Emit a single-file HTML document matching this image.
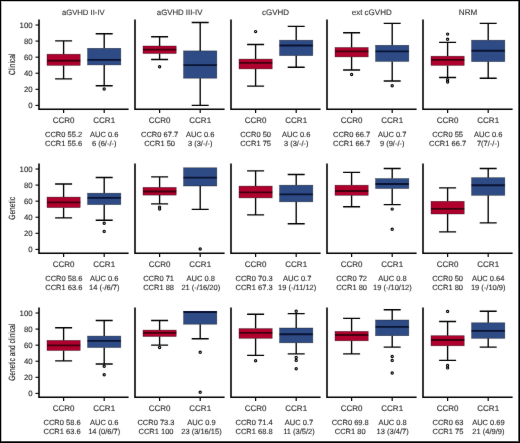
<!DOCTYPE html>
<html><head><meta charset="utf-8"><title>Boxplots</title>
<style>
html,body{margin:0;padding:0;background:#fff;}
body{width:520px;height:443px;overflow:hidden;}
svg{display:block;font-family:"Liberation Sans",sans-serif;will-change:transform;text-rendering:geometricPrecision;}
text{stroke:#2a2a2a;stroke-width:0.12px;}
</style></head><body>
<svg width="520" height="443" viewBox="0 0 520 443">
<defs><filter id="soft" filterUnits="userSpaceOnUse" x="0" y="0" width="520" height="443" color-interpolation-filters="sRGB"><feConvolveMatrix order="3" kernelMatrix="0.0028 0.0470 0.0028 0.0470 0.8008 0.0470 0.0028 0.0470 0.0028" edgeMode="duplicate" preserveAlpha="true"/></filter></defs>
<g filter="url(#soft)">
<rect x="0" y="0" width="520" height="443" fill="#fff"/>
<text transform="translate(14.8,64.35) rotate(-90) scale(0.73,1)" text-anchor="middle" font-size="9" fill="#111" stroke="#111" stroke-width="0.4">Clinical</text>
<text x="83.3" y="15.3" text-anchor="middle" font-size="7.7" fill="#333" stroke="none">aGVHD II-IV</text>
<path d="M39 19.4V109.3H128.6" fill="none" stroke="#000" stroke-width="1.6" stroke-linejoin="miter"/>
<path d="M63.6 109.3v3.6" stroke="#000" stroke-width="1.2"/>
<path d="M104.2 109.3v3.6" stroke="#000" stroke-width="1.2"/>
<path d="M35.5 105.4H39" stroke="#000" stroke-width="1.1"/>
<text x="32.6" y="108.1" text-anchor="end" font-size="7.8" fill="#2a2a2a">0</text>
<path d="M35.5 89.32H39" stroke="#000" stroke-width="1.1"/>
<text x="32.6" y="92.02" text-anchor="end" font-size="7.8" fill="#2a2a2a">20</text>
<path d="M35.5 73.24H39" stroke="#000" stroke-width="1.1"/>
<text x="32.6" y="75.94" text-anchor="end" font-size="7.8" fill="#2a2a2a">40</text>
<path d="M35.5 57.16H39" stroke="#000" stroke-width="1.1"/>
<text x="32.6" y="59.86" text-anchor="end" font-size="7.8" fill="#2a2a2a">60</text>
<path d="M35.5 41.08H39" stroke="#000" stroke-width="1.1"/>
<text x="32.6" y="43.78" text-anchor="end" font-size="7.8" fill="#2a2a2a">80</text>
<path d="M35.5 25H39" stroke="#000" stroke-width="1.1"/>
<text x="32.6" y="27.7" text-anchor="end" font-size="7.8" fill="#2a2a2a">100</text>
<path d="M63.6 54.2V40.9M55.1 40.9H72.1" stroke="#000" stroke-width="1.35" fill="none"/>
<path d="M63.6 65.4V78.8M55.1 78.8H72.1" stroke="#000" stroke-width="1.35" fill="none"/>
<rect x="47" y="54.2" width="33.2" height="11.2" fill="#B0002E" stroke="#000" stroke-opacity="0.55" stroke-width="0.6"/>
<path d="M47 60.7H80.2" stroke="#40000e" stroke-width="1.85"/>
<path d="M104.2 48.3V33.7M95.7 33.7H112.7" stroke="#000" stroke-width="1.35" fill="none"/>
<path d="M104.2 64.9V85.7M95.7 85.7H112.7" stroke="#000" stroke-width="1.35" fill="none"/>
<rect x="87.6" y="48.3" width="33.2" height="16.6" fill="#2E4B85" stroke="#000" stroke-opacity="0.55" stroke-width="0.6"/>
<path d="M87.6 59.9H120.8" stroke="#0a1232" stroke-width="1.85"/>
<circle cx="104.2" cy="89" r="1.1" fill="#fff" stroke="#000" stroke-width="1.2"/>
<text x="63.6" y="122.9" text-anchor="middle" font-size="8" fill="#2a2a2a">CCR0</text>
<text x="63.6" y="136.7" text-anchor="middle" font-size="7.5" fill="#2a2a2a">CCR0 55.2</text>
<text x="63.6" y="146.1" text-anchor="middle" font-size="7.5" fill="#2a2a2a">CCR1 55.6</text>
<text x="104.2" y="122.9" text-anchor="middle" font-size="8" fill="#2a2a2a">CCR1</text>
<text x="104.2" y="136.7" text-anchor="middle" font-size="7.5" fill="#2a2a2a">AUC 0.6</text>
<text x="104.2" y="146.1" text-anchor="middle" font-size="7.5" fill="#2a2a2a">6 (6/-/-)</text>
<text x="179.6" y="15.3" text-anchor="middle" font-size="7.8" fill="#333" stroke="none">aGVHD III-IV</text>
<path d="M135 19.4V109.3H224.6" fill="none" stroke="#000" stroke-width="1.6" stroke-linejoin="miter"/>
<path d="M159.6 109.3v3.6" stroke="#000" stroke-width="1.2"/>
<path d="M200.2 109.3v3.6" stroke="#000" stroke-width="1.2"/>
<path d="M159.6 46V36.7M151.1 36.7H168.1" stroke="#000" stroke-width="1.35" fill="none"/>
<path d="M159.6 53.5V59.5M151.1 59.5H168.1" stroke="#000" stroke-width="1.35" fill="none"/>
<rect x="143" y="46" width="33.2" height="7.5" fill="#B0002E" stroke="#000" stroke-opacity="0.55" stroke-width="0.6"/>
<path d="M143 49.6H176.2" stroke="#40000e" stroke-width="1.85"/>
<circle cx="159.6" cy="66.8" r="1.1" fill="#fff" stroke="#000" stroke-width="1.2"/>
<path d="M200.2 50.9V22.5M191.7 22.5H208.7" stroke="#000" stroke-width="1.35" fill="none"/>
<path d="M200.2 78.2V105.4M191.7 105.4H208.7" stroke="#000" stroke-width="1.35" fill="none"/>
<rect x="183.6" y="50.9" width="33.2" height="27.3" fill="#2E4B85" stroke="#000" stroke-opacity="0.55" stroke-width="0.6"/>
<path d="M183.6 65.1H216.8" stroke="#0a1232" stroke-width="1.85"/>
<text x="159.6" y="122.9" text-anchor="middle" font-size="8" fill="#2a2a2a">CCR0</text>
<text x="159.6" y="136.7" text-anchor="middle" font-size="7.5" fill="#2a2a2a">CCR0 67.7</text>
<text x="159.6" y="146.1" text-anchor="middle" font-size="7.5" fill="#2a2a2a">CCR1 50</text>
<text x="200.2" y="122.9" text-anchor="middle" font-size="8" fill="#2a2a2a">CCR1</text>
<text x="200.2" y="136.7" text-anchor="middle" font-size="7.5" fill="#2a2a2a">AUC 0.6</text>
<text x="200.2" y="146.1" text-anchor="middle" font-size="7.5" fill="#2a2a2a">3 (3/-/-)</text>
<text x="275.6" y="15.3" text-anchor="middle" font-size="8" fill="#333" stroke="none">cGVHD</text>
<path d="M231 19.4V109.3H320.6" fill="none" stroke="#000" stroke-width="1.6" stroke-linejoin="miter"/>
<path d="M255.6 109.3v3.6" stroke="#000" stroke-width="1.2"/>
<path d="M296.2 109.3v3.6" stroke="#000" stroke-width="1.2"/>
<path d="M255.6 59.1V44.5M247.1 44.5H264.1" stroke="#000" stroke-width="1.35" fill="none"/>
<path d="M255.6 68.9V86.1M247.1 86.1H264.1" stroke="#000" stroke-width="1.35" fill="none"/>
<rect x="239" y="59.1" width="33.2" height="9.8" fill="#B0002E" stroke="#000" stroke-opacity="0.55" stroke-width="0.6"/>
<path d="M239 62.9H272.2" stroke="#40000e" stroke-width="1.85"/>
<circle cx="255.6" cy="31.6" r="1.1" fill="#fff" stroke="#000" stroke-width="1.2"/>
<path d="M296.2 40.2V26.4M287.7 26.4H304.7" stroke="#000" stroke-width="1.35" fill="none"/>
<path d="M296.2 55.6V67.2M287.7 67.2H304.7" stroke="#000" stroke-width="1.35" fill="none"/>
<rect x="279.6" y="40.2" width="33.2" height="15.4" fill="#2E4B85" stroke="#000" stroke-opacity="0.55" stroke-width="0.6"/>
<path d="M279.6 45.5H312.8" stroke="#0a1232" stroke-width="1.85"/>
<text x="255.6" y="122.9" text-anchor="middle" font-size="8" fill="#2a2a2a">CCR0</text>
<text x="255.6" y="136.7" text-anchor="middle" font-size="7.5" fill="#2a2a2a">CCR0 50</text>
<text x="255.6" y="146.1" text-anchor="middle" font-size="7.5" fill="#2a2a2a">CCR1 75</text>
<text x="296.2" y="122.9" text-anchor="middle" font-size="8" fill="#2a2a2a">CCR1</text>
<text x="296.2" y="136.7" text-anchor="middle" font-size="7.5" fill="#2a2a2a">AUC 0.6</text>
<text x="296.2" y="146.1" text-anchor="middle" font-size="7.5" fill="#2a2a2a">3 (3/-/-)</text>
<text x="371.7" y="15.3" text-anchor="middle" font-size="8" fill="#333" stroke="none">ext cGVHD</text>
<path d="M327 19.4V109.3H416.6" fill="none" stroke="#000" stroke-width="1.6" stroke-linejoin="miter"/>
<path d="M351.6 109.3v3.6" stroke="#000" stroke-width="1.2"/>
<path d="M392.2 109.3v3.6" stroke="#000" stroke-width="1.2"/>
<path d="M351.6 47.5V32.7M343.1 32.7H360.1" stroke="#000" stroke-width="1.35" fill="none"/>
<path d="M351.6 56.9V70M343.1 70H360.1" stroke="#000" stroke-width="1.35" fill="none"/>
<rect x="335" y="47.5" width="33.2" height="9.4" fill="#B0002E" stroke="#000" stroke-opacity="0.55" stroke-width="0.6"/>
<path d="M335 51.3H368.2" stroke="#40000e" stroke-width="1.85"/>
<circle cx="351.6" cy="74.5" r="1.1" fill="#fff" stroke="#000" stroke-width="1.2"/>
<path d="M392.2 45.3V23.4M383.7 23.4H400.7" stroke="#000" stroke-width="1.35" fill="none"/>
<path d="M392.2 61.4V81M383.7 81H400.7" stroke="#000" stroke-width="1.35" fill="none"/>
<rect x="375.6" y="45.3" width="33.2" height="16.1" fill="#2E4B85" stroke="#000" stroke-opacity="0.55" stroke-width="0.6"/>
<path d="M375.6 51.3H408.8" stroke="#0a1232" stroke-width="1.85"/>
<circle cx="392.2" cy="85.7" r="1.1" fill="#fff" stroke="#000" stroke-width="1.2"/>
<text x="351.6" y="122.9" text-anchor="middle" font-size="8" fill="#2a2a2a">CCR0</text>
<text x="351.6" y="136.7" text-anchor="middle" font-size="7.5" fill="#2a2a2a">CCR0 66.7</text>
<text x="351.6" y="146.1" text-anchor="middle" font-size="7.5" fill="#2a2a2a">CCR1 66.7</text>
<text x="392.2" y="122.9" text-anchor="middle" font-size="8" fill="#2a2a2a">CCR1</text>
<text x="392.2" y="136.7" text-anchor="middle" font-size="7.5" fill="#2a2a2a">AUC 0.7</text>
<text x="392.2" y="146.1" text-anchor="middle" font-size="7.5" fill="#2a2a2a">9 (9/-/-)</text>
<text x="468" y="15.3" text-anchor="middle" font-size="8.1" fill="#333" stroke="none">NRM</text>
<path d="M423 19.4V109.3H512.6" fill="none" stroke="#000" stroke-width="1.6" stroke-linejoin="miter"/>
<path d="M447.6 109.3v3.6" stroke="#000" stroke-width="1.2"/>
<path d="M488.2 109.3v3.6" stroke="#000" stroke-width="1.2"/>
<path d="M447.6 56.2V42.3M439.1 42.3H456.1" stroke="#000" stroke-width="1.35" fill="none"/>
<path d="M447.6 65.4V77.5M439.1 77.5H456.1" stroke="#000" stroke-width="1.35" fill="none"/>
<rect x="431" y="56.2" width="33.2" height="9.2" fill="#B0002E" stroke="#000" stroke-opacity="0.55" stroke-width="0.6"/>
<path d="M431 59.9H464.2" stroke="#40000e" stroke-width="1.85"/>
<circle cx="447.6" cy="34.1" r="1.1" fill="#fff" stroke="#000" stroke-width="1.2"/>
<circle cx="447.6" cy="39.2" r="1.1" fill="#fff" stroke="#000" stroke-width="1.2"/>
<circle cx="447.6" cy="79.8" r="1.1" fill="#fff" stroke="#000" stroke-width="1.2"/>
<circle cx="447.6" cy="82" r="1.1" fill="#fff" stroke="#000" stroke-width="1.2"/>
<path d="M488.2 40.2V23.4M479.7 23.4H496.7" stroke="#000" stroke-width="1.35" fill="none"/>
<path d="M488.2 61.6V78.2M479.7 78.2H496.7" stroke="#000" stroke-width="1.35" fill="none"/>
<rect x="471.6" y="40.2" width="33.2" height="21.4" fill="#2E4B85" stroke="#000" stroke-opacity="0.55" stroke-width="0.6"/>
<path d="M471.6 50.7H504.8" stroke="#0a1232" stroke-width="1.85"/>
<text x="447.6" y="122.9" text-anchor="middle" font-size="8" fill="#2a2a2a">CCR0</text>
<text x="447.6" y="136.7" text-anchor="middle" font-size="7.5" fill="#2a2a2a">CCR0 55</text>
<text x="447.6" y="146.1" text-anchor="middle" font-size="7.5" fill="#2a2a2a">CCR1 66.7</text>
<text x="488.2" y="122.9" text-anchor="middle" font-size="8" fill="#2a2a2a">CCR1</text>
<text x="488.2" y="136.7" text-anchor="middle" font-size="7.5" fill="#2a2a2a">AUC 0.6</text>
<text x="488.2" y="146.1" text-anchor="middle" font-size="7.5" fill="#2a2a2a">7(7/-/-)</text>
<text transform="translate(14.8,208.35) rotate(-90) scale(0.73,1)" text-anchor="middle" font-size="9" fill="#111" stroke="#111" stroke-width="0.4">Genetic</text>
<path d="M39 163.4V253.3H128.6" fill="none" stroke="#000" stroke-width="1.6" stroke-linejoin="miter"/>
<path d="M63.6 253.3v3.6" stroke="#000" stroke-width="1.2"/>
<path d="M104.2 253.3v3.6" stroke="#000" stroke-width="1.2"/>
<path d="M35.5 249.4H39" stroke="#000" stroke-width="1.1"/>
<text x="32.6" y="252.1" text-anchor="end" font-size="7.8" fill="#2a2a2a">0</text>
<path d="M35.5 233.32H39" stroke="#000" stroke-width="1.1"/>
<text x="32.6" y="236.02" text-anchor="end" font-size="7.8" fill="#2a2a2a">20</text>
<path d="M35.5 217.24H39" stroke="#000" stroke-width="1.1"/>
<text x="32.6" y="219.94" text-anchor="end" font-size="7.8" fill="#2a2a2a">40</text>
<path d="M35.5 201.16H39" stroke="#000" stroke-width="1.1"/>
<text x="32.6" y="203.86" text-anchor="end" font-size="7.8" fill="#2a2a2a">60</text>
<path d="M35.5 185.08H39" stroke="#000" stroke-width="1.1"/>
<text x="32.6" y="187.78" text-anchor="end" font-size="7.8" fill="#2a2a2a">80</text>
<path d="M35.5 169H39" stroke="#000" stroke-width="1.1"/>
<text x="32.6" y="171.7" text-anchor="end" font-size="7.8" fill="#2a2a2a">100</text>
<path d="M63.6 197.1V184M55.1 184H72.1" stroke="#000" stroke-width="1.35" fill="none"/>
<path d="M63.6 207.6V217.9M55.1 217.9H72.1" stroke="#000" stroke-width="1.35" fill="none"/>
<rect x="47" y="197.1" width="33.2" height="10.5" fill="#B0002E" stroke="#000" stroke-opacity="0.55" stroke-width="0.6"/>
<path d="M47 202.4H80.2" stroke="#40000e" stroke-width="1.85"/>
<path d="M104.2 193.2V177.5M95.7 177.5H112.7" stroke="#000" stroke-width="1.35" fill="none"/>
<path d="M104.2 204.6V220.2M95.7 220.2H112.7" stroke="#000" stroke-width="1.35" fill="none"/>
<rect x="87.6" y="193.2" width="33.2" height="11.4" fill="#2E4B85" stroke="#000" stroke-opacity="0.55" stroke-width="0.6"/>
<path d="M87.6 197.9H120.8" stroke="#0a1232" stroke-width="1.85"/>
<circle cx="104.2" cy="223.2" r="1.1" fill="#fff" stroke="#000" stroke-width="1.2"/>
<circle cx="104.2" cy="231.4" r="1.1" fill="#fff" stroke="#000" stroke-width="1.2"/>
<text x="63.6" y="266.9" text-anchor="middle" font-size="8" fill="#2a2a2a">CCR0</text>
<text x="63.8" y="280.7" text-anchor="middle" font-size="7.5" fill="#2a2a2a">CCR0 58.6</text>
<text x="63.8" y="290.1" text-anchor="middle" font-size="7.5" fill="#2a2a2a">CCR1 63.6</text>
<text x="104.2" y="266.9" text-anchor="middle" font-size="8" fill="#2a2a2a">CCR1</text>
<text x="104.2" y="280.7" text-anchor="middle" font-size="7.5" fill="#2a2a2a">AUC 0.6</text>
<text x="104.2" y="290.1" text-anchor="middle" font-size="7.5" fill="#2a2a2a">14 (-/6/7)</text>
<path d="M135 163.4V253.3H224.6" fill="none" stroke="#000" stroke-width="1.6" stroke-linejoin="miter"/>
<path d="M159.6 253.3v3.6" stroke="#000" stroke-width="1.2"/>
<path d="M200.2 253.3v3.6" stroke="#000" stroke-width="1.2"/>
<path d="M159.6 187.4V176.9M151.1 176.9H168.1" stroke="#000" stroke-width="1.35" fill="none"/>
<path d="M159.6 195.1V203.9M151.1 203.9H168.1" stroke="#000" stroke-width="1.35" fill="none"/>
<rect x="143" y="187.4" width="33.2" height="7.7" fill="#B0002E" stroke="#000" stroke-opacity="0.55" stroke-width="0.6"/>
<path d="M143 191.5H176.2" stroke="#40000e" stroke-width="1.85"/>
<circle cx="159.6" cy="207.1" r="1.1" fill="#fff" stroke="#000" stroke-width="1.2"/>
<circle cx="159.6" cy="209.1" r="1.1" fill="#fff" stroke="#000" stroke-width="1.2"/>
<path d="M200.2 186V209.3M191.7 209.3H208.7" stroke="#000" stroke-width="1.35" fill="none"/>
<rect x="183.6" y="167.8" width="33.2" height="18.2" fill="#2E4B85" stroke="#000" stroke-opacity="0.55" stroke-width="0.6"/>
<path d="M183.6 177.6H216.8" stroke="#0a1232" stroke-width="1.85"/>
<circle cx="200.2" cy="249" r="1.1" fill="#fff" stroke="#000" stroke-width="1.2"/>
<text x="159.6" y="266.9" text-anchor="middle" font-size="8" fill="#2a2a2a">CCR0</text>
<text x="158.6" y="280.7" text-anchor="middle" font-size="7.5" fill="#2a2a2a">CCR0 71</text>
<text x="158.6" y="290.1" text-anchor="middle" font-size="7.5" fill="#2a2a2a">CCR1 88</text>
<text x="200.2" y="266.9" text-anchor="middle" font-size="8" fill="#2a2a2a">CCR1</text>
<text x="200.8" y="280.7" text-anchor="middle" font-size="7.5" fill="#2a2a2a">AUC 0.8</text>
<text x="200.8" y="290.1" text-anchor="middle" font-size="7.5" fill="#2a2a2a">21 (-/16/20)</text>
<path d="M231 163.4V253.3H320.6" fill="none" stroke="#000" stroke-width="1.6" stroke-linejoin="miter"/>
<path d="M255.6 253.3v3.6" stroke="#000" stroke-width="1.2"/>
<path d="M296.2 253.3v3.6" stroke="#000" stroke-width="1.2"/>
<path d="M255.6 186.1V170.9M247.1 170.9H264.1" stroke="#000" stroke-width="1.35" fill="none"/>
<path d="M255.6 197.9V214.9M247.1 214.9H264.1" stroke="#000" stroke-width="1.35" fill="none"/>
<rect x="239" y="186.1" width="33.2" height="11.8" fill="#B0002E" stroke="#000" stroke-opacity="0.55" stroke-width="0.6"/>
<path d="M239 192.3H272.2" stroke="#40000e" stroke-width="1.85"/>
<path d="M296.2 185.2V174.5M287.7 174.5H304.7" stroke="#000" stroke-width="1.35" fill="none"/>
<path d="M296.2 201.8V223.7M287.7 223.7H304.7" stroke="#000" stroke-width="1.35" fill="none"/>
<rect x="279.6" y="185.2" width="33.2" height="16.6" fill="#2E4B85" stroke="#000" stroke-opacity="0.55" stroke-width="0.6"/>
<path d="M279.6 194.3H312.8" stroke="#0a1232" stroke-width="1.85"/>
<text x="255.6" y="266.9" text-anchor="middle" font-size="8" fill="#2a2a2a">CCR0</text>
<text x="254.1" y="280.7" text-anchor="middle" font-size="7.5" fill="#2a2a2a">CCR0 70.3</text>
<text x="254.1" y="290.1" text-anchor="middle" font-size="7.5" fill="#2a2a2a">CCR1 67.3</text>
<text x="296.2" y="266.9" text-anchor="middle" font-size="8" fill="#2a2a2a">CCR1</text>
<text x="297.2" y="280.7" text-anchor="middle" font-size="7.5" fill="#2a2a2a">AUC 0.7</text>
<text x="297.2" y="290.1" text-anchor="middle" font-size="7.5" fill="#2a2a2a">19 (-/11/12)</text>
<path d="M327 163.4V253.3H416.6" fill="none" stroke="#000" stroke-width="1.6" stroke-linejoin="miter"/>
<path d="M351.6 253.3v3.6" stroke="#000" stroke-width="1.2"/>
<path d="M392.2 253.3v3.6" stroke="#000" stroke-width="1.2"/>
<path d="M351.6 185.2V172.4M343.1 172.4H360.1" stroke="#000" stroke-width="1.35" fill="none"/>
<path d="M351.6 195.3V206.7M343.1 206.7H360.1" stroke="#000" stroke-width="1.35" fill="none"/>
<rect x="335" y="185.2" width="33.2" height="10.1" fill="#B0002E" stroke="#000" stroke-opacity="0.55" stroke-width="0.6"/>
<path d="M335 191H368.2" stroke="#40000e" stroke-width="1.85"/>
<path d="M392.2 178.6V168.5M383.7 168.5H400.7" stroke="#000" stroke-width="1.35" fill="none"/>
<path d="M392.2 188.5V204.6M383.7 204.6H400.7" stroke="#000" stroke-width="1.35" fill="none"/>
<rect x="375.6" y="178.6" width="33.2" height="9.9" fill="#2E4B85" stroke="#000" stroke-opacity="0.55" stroke-width="0.6"/>
<path d="M375.6 184H408.8" stroke="#0a1232" stroke-width="1.85"/>
<circle cx="392.2" cy="209.1" r="1.1" fill="#fff" stroke="#000" stroke-width="1.2"/>
<circle cx="392.2" cy="229.2" r="1.1" fill="#fff" stroke="#000" stroke-width="1.2"/>
<text x="351.6" y="266.9" text-anchor="middle" font-size="8" fill="#2a2a2a">CCR0</text>
<text x="351.6" y="280.7" text-anchor="middle" font-size="7.5" fill="#2a2a2a">CCR0 72</text>
<text x="351.6" y="290.1" text-anchor="middle" font-size="7.5" fill="#2a2a2a">CCR1 80</text>
<text x="392.2" y="266.9" text-anchor="middle" font-size="8" fill="#2a2a2a">CCR1</text>
<text x="392.4" y="280.7" text-anchor="middle" font-size="7.5" fill="#2a2a2a">AUC 0.8</text>
<text x="392.4" y="290.1" text-anchor="middle" font-size="7.5" fill="#2a2a2a">19 (-/10/12)</text>
<path d="M423 163.4V253.3H512.6" fill="none" stroke="#000" stroke-width="1.6" stroke-linejoin="miter"/>
<path d="M447.6 253.3v3.6" stroke="#000" stroke-width="1.2"/>
<path d="M488.2 253.3v3.6" stroke="#000" stroke-width="1.2"/>
<path d="M447.6 201.3V187.8M439.1 187.8H456.1" stroke="#000" stroke-width="1.35" fill="none"/>
<path d="M447.6 214V231.8M439.1 231.8H456.1" stroke="#000" stroke-width="1.35" fill="none"/>
<rect x="431" y="201.3" width="33.2" height="12.7" fill="#B0002E" stroke="#000" stroke-opacity="0.55" stroke-width="0.6"/>
<path d="M431 208.9H464.2" stroke="#40000e" stroke-width="1.85"/>
<path d="M488.2 177.7V168.5M479.7 168.5H496.7" stroke="#000" stroke-width="1.35" fill="none"/>
<path d="M488.2 195.3V222.8M479.7 222.8H496.7" stroke="#000" stroke-width="1.35" fill="none"/>
<rect x="471.6" y="177.7" width="33.2" height="17.6" fill="#2E4B85" stroke="#000" stroke-opacity="0.55" stroke-width="0.6"/>
<path d="M471.6 185.2H504.8" stroke="#0a1232" stroke-width="1.85"/>
<text x="447.6" y="266.9" text-anchor="middle" font-size="8" fill="#2a2a2a">CCR0</text>
<text x="447.6" y="280.7" text-anchor="middle" font-size="7.5" fill="#2a2a2a">CCR0 50</text>
<text x="447.6" y="290.1" text-anchor="middle" font-size="7.5" fill="#2a2a2a">CCR1 80</text>
<text x="488.2" y="266.9" text-anchor="middle" font-size="8" fill="#2a2a2a">CCR1</text>
<text x="488.2" y="280.7" text-anchor="middle" font-size="7.5" fill="#2a2a2a">AUC 0.64</text>
<text x="488.2" y="290.1" text-anchor="middle" font-size="7.5" fill="#2a2a2a">19 (-/10/9)</text>
<text transform="translate(14.8,352.35) rotate(-90) scale(0.73,1)" text-anchor="middle" font-size="9" fill="#111" stroke="#111" stroke-width="0.4">Genetic and clinical</text>
<path d="M39 307.4V397.3H128.6" fill="none" stroke="#000" stroke-width="1.6" stroke-linejoin="miter"/>
<path d="M63.6 397.3v3.6" stroke="#000" stroke-width="1.2"/>
<path d="M104.2 397.3v3.6" stroke="#000" stroke-width="1.2"/>
<path d="M35.5 393.4H39" stroke="#000" stroke-width="1.1"/>
<text x="32.6" y="396.1" text-anchor="end" font-size="7.8" fill="#2a2a2a">0</text>
<path d="M35.5 377.32H39" stroke="#000" stroke-width="1.1"/>
<text x="32.6" y="380.02" text-anchor="end" font-size="7.8" fill="#2a2a2a">20</text>
<path d="M35.5 361.24H39" stroke="#000" stroke-width="1.1"/>
<text x="32.6" y="363.94" text-anchor="end" font-size="7.8" fill="#2a2a2a">40</text>
<path d="M35.5 345.16H39" stroke="#000" stroke-width="1.1"/>
<text x="32.6" y="347.86" text-anchor="end" font-size="7.8" fill="#2a2a2a">60</text>
<path d="M35.5 329.08H39" stroke="#000" stroke-width="1.1"/>
<text x="32.6" y="331.78" text-anchor="end" font-size="7.8" fill="#2a2a2a">80</text>
<path d="M35.5 313H39" stroke="#000" stroke-width="1.1"/>
<text x="32.6" y="315.7" text-anchor="end" font-size="7.8" fill="#2a2a2a">100</text>
<path d="M63.6 340.4V327.7M55.1 327.7H72.1" stroke="#000" stroke-width="1.35" fill="none"/>
<path d="M63.6 350.5V360.8M55.1 360.8H72.1" stroke="#000" stroke-width="1.35" fill="none"/>
<rect x="47" y="340.4" width="33.2" height="10.1" fill="#B0002E" stroke="#000" stroke-opacity="0.55" stroke-width="0.6"/>
<path d="M47 345.3H80.2" stroke="#40000e" stroke-width="1.85"/>
<path d="M104.2 336.1V320.5M95.7 320.5H112.7" stroke="#000" stroke-width="1.35" fill="none"/>
<path d="M104.2 347.5V364M95.7 364H112.7" stroke="#000" stroke-width="1.35" fill="none"/>
<rect x="87.6" y="336.1" width="33.2" height="11.4" fill="#2E4B85" stroke="#000" stroke-opacity="0.55" stroke-width="0.6"/>
<path d="M87.6 340.8H120.8" stroke="#0a1232" stroke-width="1.85"/>
<circle cx="104.2" cy="366.2" r="1.1" fill="#fff" stroke="#000" stroke-width="1.2"/>
<circle cx="104.2" cy="374.7" r="1.1" fill="#fff" stroke="#000" stroke-width="1.2"/>
<text x="63.6" y="410.9" text-anchor="middle" font-size="8" fill="#2a2a2a">CCR0</text>
<text x="62.1" y="424.7" text-anchor="middle" font-size="7.5" fill="#2a2a2a">CCR0 58.6</text>
<text x="62.1" y="434.1" text-anchor="middle" font-size="7.5" fill="#2a2a2a">CCR1 63.6</text>
<text x="104.2" y="410.9" text-anchor="middle" font-size="8" fill="#2a2a2a">CCR1</text>
<text x="104.2" y="424.7" text-anchor="middle" font-size="7.5" fill="#2a2a2a">AUC 0.6</text>
<text x="104.2" y="434.1" text-anchor="middle" font-size="7.5" fill="#2a2a2a">14 (0/6/7)</text>
<path d="M135 307.4V397.3H224.6" fill="none" stroke="#000" stroke-width="1.6" stroke-linejoin="miter"/>
<path d="M159.6 397.3v3.6" stroke="#000" stroke-width="1.2"/>
<path d="M200.2 397.3v3.6" stroke="#000" stroke-width="1.2"/>
<path d="M159.6 330.1V320.5M151.1 320.5H168.1" stroke="#000" stroke-width="1.35" fill="none"/>
<path d="M159.6 336.5V345.1M151.1 345.1H168.1" stroke="#000" stroke-width="1.35" fill="none"/>
<rect x="143" y="330.1" width="33.2" height="6.4" fill="#B0002E" stroke="#000" stroke-opacity="0.55" stroke-width="0.6"/>
<path d="M143 332.9H176.2" stroke="#40000e" stroke-width="1.85"/>
<circle cx="159.6" cy="347.5" r="1.1" fill="#fff" stroke="#000" stroke-width="1.2"/>
<path d="M200.2 324.2V338.7M191.7 338.7H208.7" stroke="#000" stroke-width="1.35" fill="none"/>
<rect x="183.6" y="311.3" width="33.2" height="12.9" fill="#2E4B85" stroke="#000" stroke-opacity="0.55" stroke-width="0.6"/>
<path d="M183.6 312H216.8" stroke="#0a1232" stroke-width="1.85"/>
<circle cx="200.2" cy="352.2" r="1.1" fill="#fff" stroke="#000" stroke-width="1.2"/>
<circle cx="200.2" cy="392.3" r="1.1" fill="#fff" stroke="#000" stroke-width="1.2"/>
<text x="159.6" y="410.9" text-anchor="middle" font-size="8" fill="#2a2a2a">CCR0</text>
<text x="156" y="424.7" text-anchor="middle" font-size="7.5" fill="#2a2a2a">CCR0 73.3</text>
<text x="156" y="434.1" text-anchor="middle" font-size="7.5" fill="#2a2a2a">CCR1 100</text>
<text x="200.2" y="410.9" text-anchor="middle" font-size="8" fill="#2a2a2a">CCR1</text>
<text x="201.5" y="424.7" text-anchor="middle" font-size="7.5" fill="#2a2a2a">AUC 0.9</text>
<text x="201.5" y="434.1" text-anchor="middle" font-size="7.5" fill="#2a2a2a">23 (3/16/15)</text>
<path d="M231 307.4V397.3H320.6" fill="none" stroke="#000" stroke-width="1.6" stroke-linejoin="miter"/>
<path d="M255.6 397.3v3.6" stroke="#000" stroke-width="1.2"/>
<path d="M296.2 397.3v3.6" stroke="#000" stroke-width="1.2"/>
<path d="M255.6 328.6V314.2M247.1 314.2H264.1" stroke="#000" stroke-width="1.35" fill="none"/>
<path d="M255.6 338.3V355.4M247.1 355.4H264.1" stroke="#000" stroke-width="1.35" fill="none"/>
<rect x="239" y="328.6" width="33.2" height="9.7" fill="#B0002E" stroke="#000" stroke-opacity="0.55" stroke-width="0.6"/>
<path d="M239 332.9H272.2" stroke="#40000e" stroke-width="1.85"/>
<circle cx="255.6" cy="360.8" r="1.1" fill="#fff" stroke="#000" stroke-width="1.2"/>
<path d="M296.2 328V313.6M287.7 313.6H304.7" stroke="#000" stroke-width="1.35" fill="none"/>
<path d="M296.2 342.8V353.9M287.7 353.9H304.7" stroke="#000" stroke-width="1.35" fill="none"/>
<rect x="279.6" y="328" width="33.2" height="14.8" fill="#2E4B85" stroke="#000" stroke-opacity="0.55" stroke-width="0.6"/>
<path d="M279.6 334.2H312.8" stroke="#0a1232" stroke-width="1.85"/>
<circle cx="296.2" cy="311.2" r="1.1" fill="#fff" stroke="#000" stroke-width="1.2"/>
<circle cx="296.2" cy="357.4" r="1.1" fill="#fff" stroke="#000" stroke-width="1.2"/>
<circle cx="296.2" cy="360.4" r="1.1" fill="#fff" stroke="#000" stroke-width="1.2"/>
<circle cx="296.2" cy="368.7" r="1.1" fill="#fff" stroke="#000" stroke-width="1.2"/>
<text x="255.6" y="410.9" text-anchor="middle" font-size="8" fill="#2a2a2a">CCR0</text>
<text x="254.1" y="424.7" text-anchor="middle" font-size="7.5" fill="#2a2a2a">CCR0 71.4</text>
<text x="254.1" y="434.1" text-anchor="middle" font-size="7.5" fill="#2a2a2a">CCR1 68.8</text>
<text x="296.2" y="410.9" text-anchor="middle" font-size="8" fill="#2a2a2a">CCR1</text>
<text x="299" y="424.7" text-anchor="middle" font-size="7.5" fill="#2a2a2a">AUC 0.7</text>
<text x="299" y="434.1" text-anchor="middle" font-size="7.5" fill="#2a2a2a">11 (3/5/2)</text>
<path d="M327 307.4V397.3H416.6" fill="none" stroke="#000" stroke-width="1.6" stroke-linejoin="miter"/>
<path d="M351.6 397.3v3.6" stroke="#000" stroke-width="1.2"/>
<path d="M392.2 397.3v3.6" stroke="#000" stroke-width="1.2"/>
<path d="M351.6 331.4V318.3M343.1 318.3H360.1" stroke="#000" stroke-width="1.35" fill="none"/>
<path d="M351.6 340.8V353.9M343.1 353.9H360.1" stroke="#000" stroke-width="1.35" fill="none"/>
<rect x="335" y="331.4" width="33.2" height="9.4" fill="#B0002E" stroke="#000" stroke-opacity="0.55" stroke-width="0.6"/>
<path d="M335 335H368.2" stroke="#40000e" stroke-width="1.85"/>
<path d="M392.2 320V309.7M383.7 309.7H400.7" stroke="#000" stroke-width="1.35" fill="none"/>
<path d="M392.2 335.7V347.1M383.7 347.1H400.7" stroke="#000" stroke-width="1.35" fill="none"/>
<rect x="375.6" y="320" width="33.2" height="15.7" fill="#2E4B85" stroke="#000" stroke-opacity="0.55" stroke-width="0.6"/>
<path d="M375.6 326.9H408.8" stroke="#0a1232" stroke-width="1.85"/>
<circle cx="392.2" cy="356.5" r="1.1" fill="#fff" stroke="#000" stroke-width="1.2"/>
<circle cx="392.2" cy="360.4" r="1.1" fill="#fff" stroke="#000" stroke-width="1.2"/>
<circle cx="392.2" cy="373" r="1.1" fill="#fff" stroke="#000" stroke-width="1.2"/>
<text x="351.6" y="410.9" text-anchor="middle" font-size="8" fill="#2a2a2a">CCR0</text>
<text x="350.2" y="424.7" text-anchor="middle" font-size="7.5" fill="#2a2a2a">CCR0 69.8</text>
<text x="350.2" y="434.1" text-anchor="middle" font-size="7.5" fill="#2a2a2a">CCR1 80</text>
<text x="392.2" y="410.9" text-anchor="middle" font-size="8" fill="#2a2a2a">CCR1</text>
<text x="392.6" y="424.7" text-anchor="middle" font-size="7.5" fill="#2a2a2a">AUC 0.8</text>
<text x="392.6" y="434.1" text-anchor="middle" font-size="7.5" fill="#2a2a2a">13 (3/4/7)</text>
<path d="M423 307.4V397.3H512.6" fill="none" stroke="#000" stroke-width="1.6" stroke-linejoin="miter"/>
<path d="M447.6 397.3v3.6" stroke="#000" stroke-width="1.2"/>
<path d="M488.2 397.3v3.6" stroke="#000" stroke-width="1.2"/>
<path d="M447.6 335.7V321.5M439.1 321.5H456.1" stroke="#000" stroke-width="1.35" fill="none"/>
<path d="M447.6 345.8V360.4M439.1 360.4H456.1" stroke="#000" stroke-width="1.35" fill="none"/>
<rect x="431" y="335.7" width="33.2" height="10.1" fill="#B0002E" stroke="#000" stroke-opacity="0.55" stroke-width="0.6"/>
<path d="M431 340H464.2" stroke="#40000e" stroke-width="1.85"/>
<circle cx="447.6" cy="311.4" r="1.1" fill="#fff" stroke="#000" stroke-width="1.2"/>
<circle cx="447.6" cy="365.5" r="1.1" fill="#fff" stroke="#000" stroke-width="1.2"/>
<circle cx="447.6" cy="367.9" r="1.1" fill="#fff" stroke="#000" stroke-width="1.2"/>
<path d="M488.2 322.8V311.2M479.7 311.2H496.7" stroke="#000" stroke-width="1.35" fill="none"/>
<path d="M488.2 338.3V347.1M479.7 347.1H496.7" stroke="#000" stroke-width="1.35" fill="none"/>
<rect x="471.6" y="322.8" width="33.2" height="15.5" fill="#2E4B85" stroke="#000" stroke-opacity="0.55" stroke-width="0.6"/>
<path d="M471.6 330.8H504.8" stroke="#0a1232" stroke-width="1.85"/>
<text x="447.6" y="410.9" text-anchor="middle" font-size="8" fill="#2a2a2a">CCR0</text>
<text x="447.9" y="424.7" text-anchor="middle" font-size="7.5" fill="#2a2a2a">CCR0 63</text>
<text x="447.9" y="434.1" text-anchor="middle" font-size="7.5" fill="#2a2a2a">CCR1 75</text>
<text x="488.2" y="410.9" text-anchor="middle" font-size="8" fill="#2a2a2a">CCR1</text>
<text x="488.4" y="424.7" text-anchor="middle" font-size="7.5" fill="#2a2a2a">AUC 0.69</text>
<text x="488.4" y="434.1" text-anchor="middle" font-size="7.5" fill="#2a2a2a">21 (4/9/9)</text>
</g>
<g shape-rendering="crispEdges">
<rect x="1" y="1" width="1" height="441" fill="#bbb"/>
<rect x="1" y="1" width="518" height="1" fill="#c4c4c4"/>
<rect x="518" y="1" width="1" height="441" fill="#5a5a5a"/>
<rect x="1" y="441" width="518" height="1" fill="#4a4a4a"/>
<rect x="0" y="0" width="1" height="443" fill="#000"/>
<rect x="0" y="0" width="520" height="1" fill="#000"/>
<rect x="519" y="0" width="1" height="443" fill="#000"/>
<rect x="0" y="442" width="520" height="1" fill="#000"/>
</g>
</svg>
</body></html>
